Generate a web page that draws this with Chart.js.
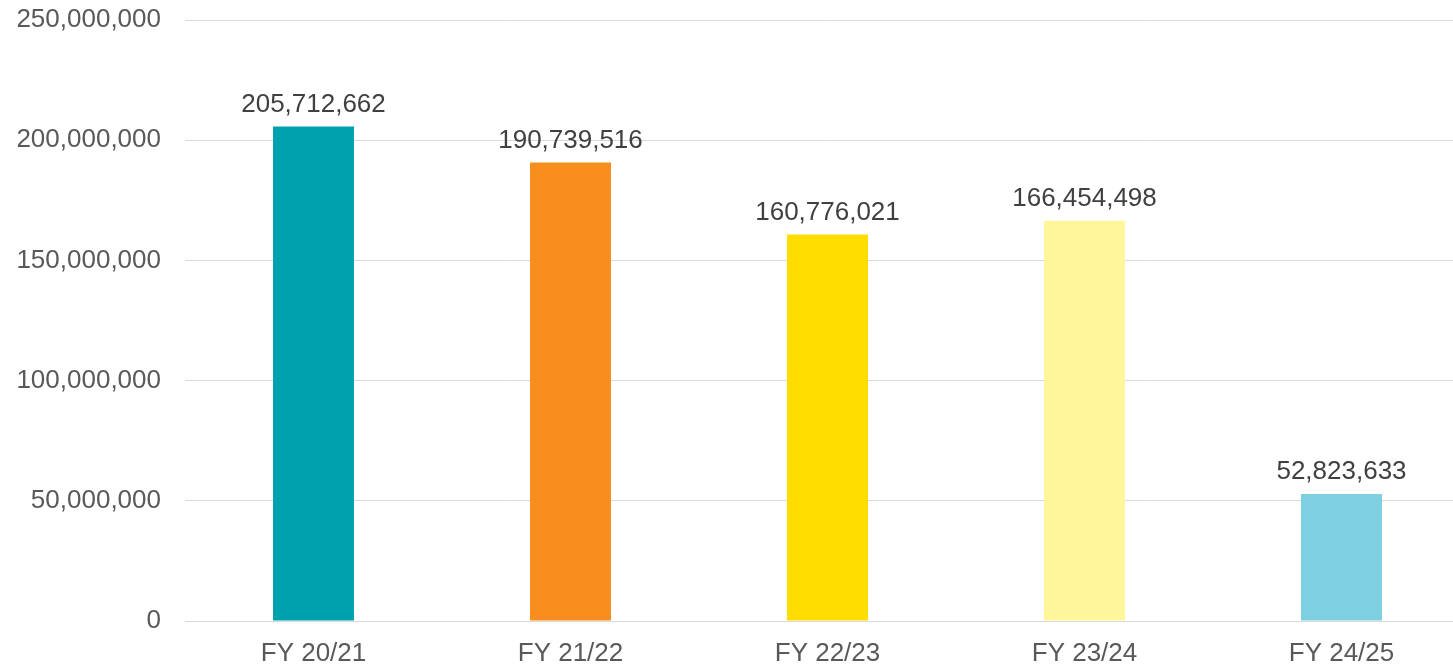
<!DOCTYPE html>
<html lang="en">
<head>
    <meta charset="UTF-8">
    <title>FY totals</title>
    <script src="https://cdn.jsdelivr.net/npm/chart.js"></script>
    <style>
        html, body { margin: 0; padding: 0; background: #fff; overflow: hidden; }
        /* plot area runs a little past the right edge in the original */
        #wrap { width: 1470px; height: 666px; position: relative; }
    </style>
</head>
<body>
    <div id="wrap"><canvas id="barChart"></canvas></div>
    <script>
        const categories = ['FY 20/21', 'FY 21/22', 'FY 22/23', 'FY 23/24', 'FY 24/25'];
        const values = [205712662, 190739516, 160776021, 166454498, 52823633];
        const barColors = ['#00A1AF', '#F78E1E', '#FFDD00', '#FFF79A', '#7ECFE0'];
        const yTicks = [0, 50000000, 100000000, 150000000, 200000000, 250000000];

        const fmt = v => v.toLocaleString('en-US');
        const font = '"Liberation Sans", Arial, sans-serif';

        // simple value labels above each bar
        const valueLabels = {
            id: 'valueLabels',
            afterDatasetsDraw(chart) {
                const ctx = chart.ctx;
                const meta = chart.getDatasetMeta(0);
                ctx.save();
                ctx.font = '26px ' + font;
                ctx.fillStyle = '#404040';
                ctx.textAlign = 'center';
                ctx.textBaseline = 'bottom';
                meta.data.forEach((bar, i) => {
                    ctx.fillText(fmt(values[i]), bar.x, bar.y - 9);
                });
                ctx.restore();
            }
        };

        new Chart(document.getElementById('barChart'), {
            type: 'bar',
            data: {
                labels: categories,
                datasets: [{
                    data: values,
                    backgroundColor: barColors,
                    borderWidth: 0,
                    barPercentage: 0.315,
                    categoryPercentage: 1
                }]
            },
            options: {
                responsive: true,
                maintainAspectRatio: false,
                animation: false,
                layout: { padding: { top: 20, right: 0, left: 0, bottom: 0 } },
                plugins: {
                    legend: { display: false },
                    tooltip: { enabled: false }
                },
                scales: {
                    x: {
                        grid: { display: false, drawTicks: false },
                        border: { display: true, color: '#D9D9D9', width: 1 },
                        ticks: {
                            color: '#595959',
                            font: { family: font, size: 26 },
                            padding: 17
                        },
                        afterFit(scale) { scale.height = 45; }
                    },
                    y: {
                        min: 0,
                        max: 250000000,
                        afterBuildTicks(scale) {
                            scale.ticks = yTicks.map(v => ({ value: v }));
                        },
                        grid: { color: '#D9D9D9', lineWidth: 1, drawTicks: false },
                        border: { display: false },
                        ticks: {
                            color: '#595959',
                            font: { family: font, size: 26 },
                            padding: 24,
                            callback: v => fmt(v)
                        },
                        afterFit(scale) {
                            scale.width = 185;
                            scale.paddingTop = 0;
                            scale.paddingBottom = 0;
                        }
                    }
                }
            },
            plugins: [valueLabels]
        });
    </script>
</body>
</html>
